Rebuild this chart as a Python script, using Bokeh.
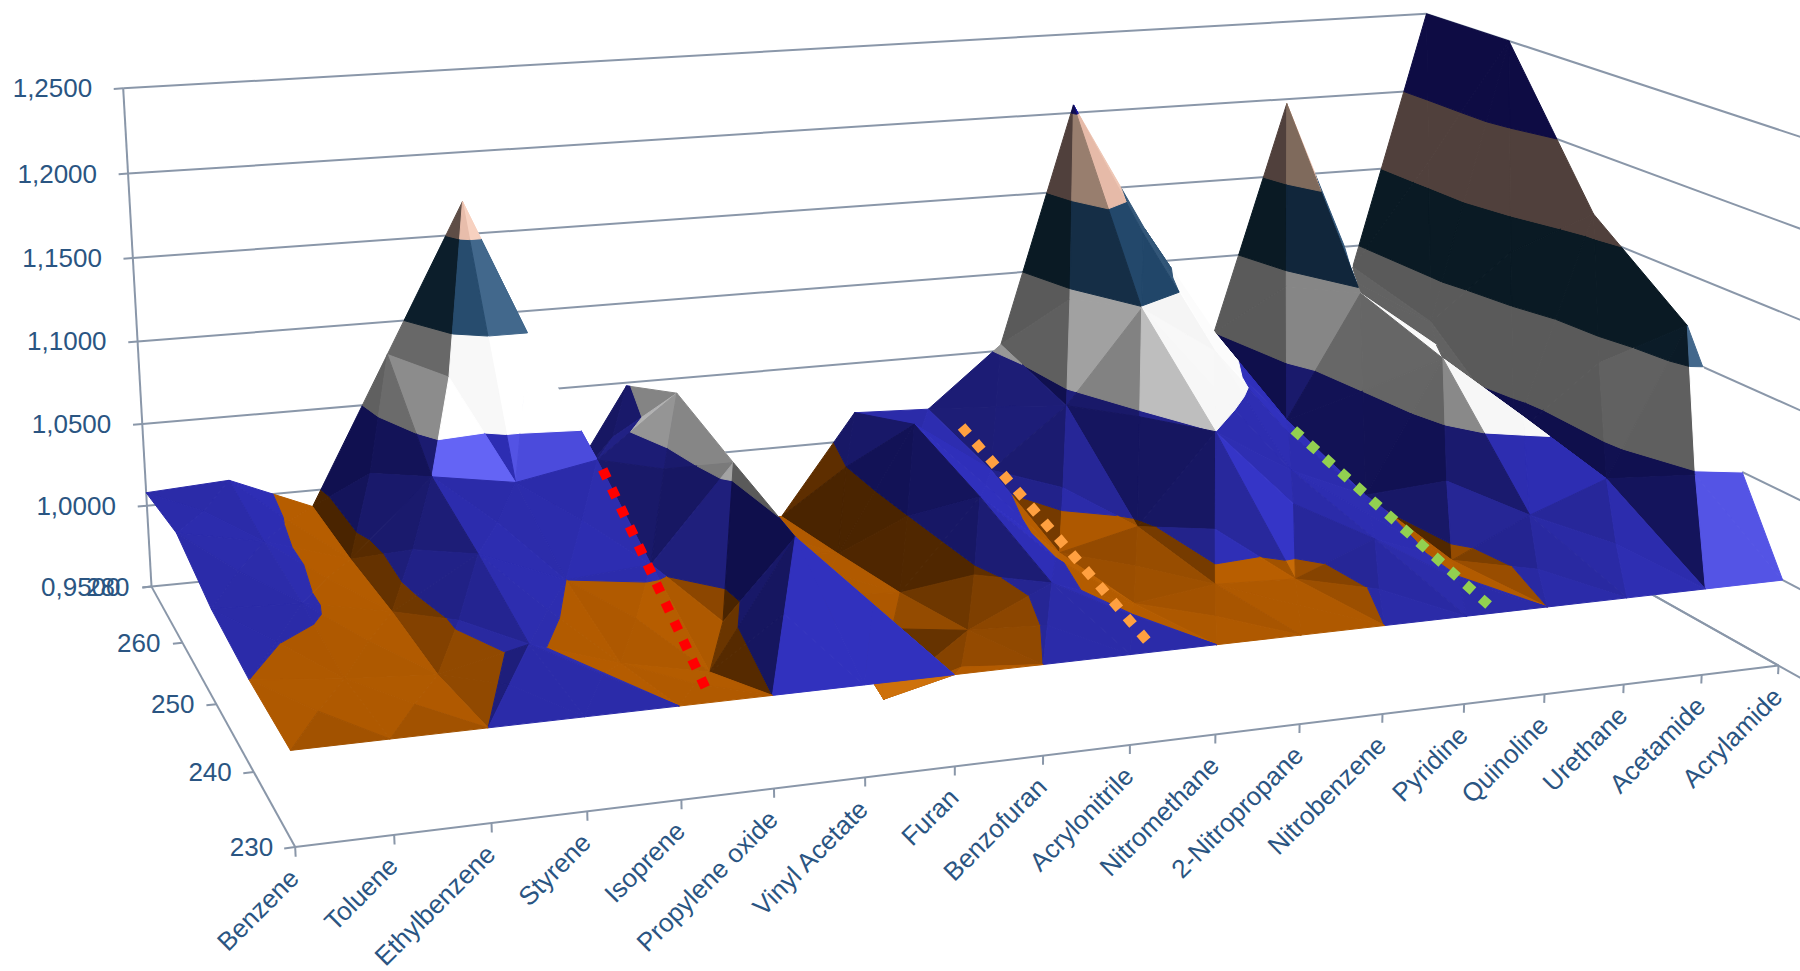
import numpy as np
from bokeh.plotting import figure
from bokeh.embed import file_html
from bokeh.resources import INLINE
from bokeh.models import Range1d
from bokeh.core.properties import value

CATEGORIES = ["Benzene", "Toluene", "Ethylbenzene", "Styrene", "Isoprene", "Propylene oxide",
              "Vinyl Acetate", "Furan", "Benzofuran", "Acrylonitrile", "Nitromethane",
              "2-Nitropropane", "Nitrobenzene", "Pyridine", "Quinoline", "Urethane",
              "Acetamide", "Acrylamide"]
WAVELENGTHS = ["230", "240", "250", "260", "280"]
Z_LABELS = ["0,9500", "1,0000", "1,0500", "1,1000", "1,1500", "1,2000", "1,2500"]

nm230 = [1.0] * 18
nm240 = [1.0, .995, .9916, 1.003, .987, .9766, 1.047, .95, .984, 1.006, .989, .995, .993, 1.0115, .994, 1.016, 1.033, 1.12]
nm250 = [1.004, 1.002, .992, 1.02, 1.0, 1.004, 1.0585, .975, .972, 1.0245, .986, .997, 1.05, 1.022, 1.002, 1.082, 1.03, 1.163]
nm260 = [1.015, 1.005, .9895, 1.034, 1.026, 1.035, 1.071, .97, .963, 1.039, 1.006, 1.042, 1.099, 1.068, 1.02, 1.097, 1.075, 1.25]
nm280 = [1.008, 1.011, .99, 1.08, 1.17, .974, 1.048, .96, .955, 1.018, 1.016, 1.054, 1.205, 1.122, 1.05, 1.197, 1.086, 1.25]
# Mid-cell heights that differ from the mean of the four corners, keyed by (column, row).
CELL_CENTRES = {(4, 3): 1.098, (5, 0): 1.0235, (6, 0): 1.0235, (5, 1): .985, (2, 0): 1.0015, (3, 0): 1.0015,
                (8, 0): 1.0015, (9, 0): 1.0015, (8, 3): 1.0, (11, 3): 1.094, (12, 3): 1.132, (15, 3): 1.09,
                (15, 2): 1.075, (15, 1): 1.058, (16, 0): 1.048}
# Brightness of single facets, keyed by (column, row, side) with sides 0 front, 1 right, 2 back, 3 left.
FACET_SHADES = {(11, 3, 0): .3, (11, 3, 1): .3, (11, 2, 2): .2, (11, 2, 1): .37, (14, 3, 0): .22, (14, 3, 1): .22,
                (15, 3, 0): .04, (15, 3, 1): .04, (15, 2, 0): .04, (15, 2, 1): .04, (15, 2, 2): .04,
                (16, 0, 0): .92, (16, 0, 1): .92, (3, 3, 0): 1.0,
                (2, 0, 2): .3, (2, 0, 3): .3, (0, 0, 0): .42, (1, 0, 0): .42}
# Overlaid guide lines: colour, then (column, row) of both ends on the 1.0 plane.
GUIDES = [("#ff0000", (5.57, 3.8), (4.43, .24)),
          ("#ffa040", (10.5, 4.0), (9.36, .2)),
          ("#92d050", (14.5, 3.32), (13.43, .16))]
DASH_ON, DASH_OFF = 10, 11

Z_MIN, Z_MAX, Z_STEP = .95, 1.25, .05
AXIS_COLOR, TEXT_COLOR = "#8a97a9", "#2a5582"
FONT = value("Liberation Sans")

# Colour ramp per height band, from faces turned away from the light to faces turned to it.
BAND_RAMPS = [
    ["#4a2400", "#8a4500", "#ad5800", "#b85e00", "#d97a10"],
    ["#0f0f4c", "#1b1b70", "#2b2ba8", "#3232c4", "#6464f5"],
    ["#5a5a5a", "#8c8c8c", "#f4f4f4", "#ffffff", "#ffffff"],
    ["#0a1a24", "#12283e", "#204568", "#34587a", "#4a7095"],
    ["#50403c", "#857060", "#e4b8a6", "#eec6b4", "#fbd6c6"],
    ["#0e0c44", "#0e0c44", "#14129a", "#1a1ab0", "#2020c0"],
]
# Brightness change by the direction a slope faces, in degrees (0 = towards the viewer, 90 = left).
FACING_DEG = [-180, -90, -45, -22, -8, 6, 39, 59, 90, 135, 180]
FACING_GAIN = [.3, .5, .15, 0, .55, .45, -.22, -.6, -.62, -.3, .3]


def camera_matrix():
    """Perspective camera of the chart box, in unit-cube coordinates."""
    pairs = [((0, 1, 0), (151, 586)), ((0, 1, 1), (122.7, 87.9)), ((0, 0, 0), (294.7, 846.7)),
             ((1, 0, 0), (1778, 665)), ((1, 1, 1), (1426, 13.3)), ((1, 1, 0), (1415, 461))]
    rows = []
    for (u, v, w), (x, y) in pairs:
        rows.append([u, v, w, 1, 0, 0, 0, 0, -x * u, -x * v, -x * w, -x])
        rows.append([0, 0, 0, 0, u, v, w, 1, -y * u, -y * v, -y * w, -y])
    return np.linalg.svd(np.array(rows, float))[2][-1].reshape(3, 4)


CAM = camera_matrix()
null = np.linalg.svd(CAM)[2][-1]
EYE = null[:3] / null[3]


def project(col, row, z):
    q = CAM @ np.array([col / 17, row / 4, (z - Z_MIN) / (Z_MAX - Z_MIN), 1.0])
    return q[0] / q[2], q[1] / q[2]


def ramp_color(band, s):
    stops = BAND_RAMPS[band]
    t = min(max(s, 0), 1) * (len(stops) - 1)
    k = min(int(t), len(stops) - 2)
    a = np.array([int(stops[k][i:i + 2], 16) for i in (1, 3, 5)], float)
    b = np.array([int(stops[k + 1][i:i + 2], 16) for i in (1, 3, 5)], float)
    c = a + (b - a) * (t - k)
    return "#%02x%02x%02x" % tuple(int(round(v)) for v in c)


def shade(tri, band):
    a, b, c = [np.array([q[0], q[1] * 1.5, q[2] / Z_STEP]) for q in tri]
    n = np.cross(b - a, c - a)
    if n[2] < 0:
        n = -n
    n = n / np.linalg.norm(n)
    steep = np.hypot(n[0], n[1])
    facing = np.degrees(np.arctan2(-n[0], -n[1]))
    gain = np.interp(facing, FACING_DEG, FACING_GAIN)
    # The lowest band shows even slight slopes
    power = .8 if band == 0 else (1.44 if gain > 0 else 2.0)
    return .5 + gain * steep ** power


def clip_band(poly, lo, hi):
    def clip(points, keep, level):
        out = []
        for i, q in enumerate(points):
            w = points[(i + 1) % len(points)]
            if keep(q[2]):
                out.append(q)
            if keep(q[2]) != keep(w[2]):
                t = (level - q[2]) / (w[2] - q[2])
                out.append((q[0] + t * (w[0] - q[0]), q[1] + t * (w[1] - q[1]), level))
        return out
    pts = clip(poly, lambda z: z >= lo, lo)
    return clip(pts, lambda z: z <= hi, hi) if pts else []


def screen_area(pts):
    x = np.array([q[0] for q in pts])
    y = np.array([q[1] for q in pts])
    return .5 * abs(np.dot(x, np.roll(y, 1)) - np.dot(y, np.roll(x, 1)))


grid = np.array([nm230, nm240, nm250, nm260, nm280])
eye_col = EYE[0] * 17
cells = sorted(((c, r) for c in range(17) for r in range(4)),
               key=lambda cr: (-cr[1], -abs(cr[0] + .5 - eye_col)))

xs, ys, colors = [], [], []
for c, r in cells:
    corners = [(c, r, grid[r, c]), (c + 1, r, grid[r, c + 1]),
               (c + 1, r + 1, grid[r + 1, c + 1]), (c, r + 1, grid[r + 1, c])]
    mid = CELL_CENTRES.get((c, r), float(np.mean([q[2] for q in corners])))
    centre = (c + .5, r + .5, mid)
    tris = [(k, (corners[k], corners[(k + 1) % 4], centre)) for k in range(4)]
    tris.sort(key=lambda t: -np.linalg.norm([np.mean([q[0] for q in t[1]]) / 17 - EYE[0],
                                             np.mean([q[1] for q in t[1]]) / 4 - EYE[1]]))
    for k, tri in tris:
        for b in range(len(BAND_RAMPS)):
            part = clip_band(list(tri), Z_MIN + b * Z_STEP, Z_MIN + (b + 1) * Z_STEP)
            if len(part) >= 3:
                pts = [project(*q) for q in part]
                if screen_area(pts) > .5:
                    xs.append([q[0] for q in pts])
                    ys.append([q[1] for q in pts])
                    colors.append(ramp_color(b, FACET_SHADES.get((c, r, k), shade(tri, b))))

p = figure(width=1800, height=971, x_range=Range1d(0, 1800), y_range=Range1d(971, 0),
           output_backend="svg", toolbar_location=None, min_border=0,
           x_axis_location=None, y_axis_location=None)
p.grid.visible = False
p.outline_line_color = None
p.background_fill_color = "white"


def segment(a, b, width=2.0):
    pa, pb = project(*a), project(*b)
    p.line([pa[0], pb[0]], [pa[1], pb[1]], line_color=AXIS_COLOR, line_width=width)


# Walls and floor frame
for k in range(len(Z_LABELS)):
    z = Z_MIN + k * Z_STEP
    segment((0, 4, z), (17, 4, z))
    segment((17, 4, z), (17, -3, z))
    segment((-.11, 4, z), (0, 4, z))
segment((0, 4, Z_MIN), (0, 4, Z_MAX))
segment((0, 4, Z_MIN), (0, 0, Z_MIN))
segment((0, 0, Z_MIN), (17, 0, Z_MIN))
segment((17, 0, Z_MIN), (17, 4, Z_MIN))
for i in range(18):
    segment((i, 0, Z_MIN), (i, 0, Z_MIN - .005))
for j in range(5):
    segment((-.11, j, Z_MIN), (0, j, Z_MIN))

p.patches(xs, ys, fill_color=colors, line_color=colors, line_width=1.0)

# Overlaid dotted guides, cut so each starts and ends on a whole dash
for color, start, end in GUIDES:
    a, b = np.array(project(start[0], start[1], 1.0)), np.array(project(end[0], end[1], 1.0))
    length = np.linalg.norm(b - a)
    unit = (b - a) / length
    a = a - unit * DASH_ON / 2
    period = DASH_ON + DASH_OFF
    count = round((length + DASH_ON + DASH_OFF) / period)
    b = a + unit * (count * period - DASH_OFF)
    p.line([a[0], b[0]], [a[1], b[1]], line_color=color, line_width=10, line_dash=f"{DASH_ON} {DASH_OFF}")

# Axis labels
zx, zy = zip(*[project(0, 4, Z_MIN + k * Z_STEP) for k in range(len(Z_LABELS))])
p.text(zx, zy, text=Z_LABELS, text_font=FONT, text_font_size="26px", text_color=TEXT_COLOR,
       text_align="right", text_baseline="middle", x_offset=-31)
rx, ry = zip(*[project(0, j, Z_MIN) for j in range(5)])
p.text(rx, ry, text=WAVELENGTHS, text_font=FONT, text_font_size="26px", text_color=TEXT_COLOR,
       text_align="right", text_baseline="middle", x_offset=-22)
cx, cy = zip(*[project(i, 0, Z_MIN) for i in range(18)])
p.text(cx, cy, text=CATEGORIES, text_font=FONT, text_font_size="26px", text_color=TEXT_COLOR,
       text_align="right", text_baseline="middle", angle=np.pi / 4, x_offset=-1, y_offset=26.5)

open("out.html", "w").write(file_html(p, INLINE))
